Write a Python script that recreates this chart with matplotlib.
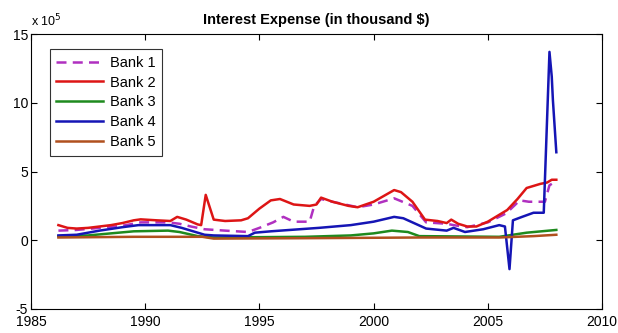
import matplotlib
matplotlib.use("Agg")
import matplotlib.pyplot as plt
from matplotlib.ticker import FuncFormatter

plt.rcParams['font.family'] = ['Liberation Sans', 'DejaVu Sans']

SCALE = 1e5  # values below are in units of 10^5 thousand $

bank1_x = [1986.2, 1987.0, 1988.0, 1989.0, 1989.8, 1991.0, 1991.5, 1992.0, 1992.6, 1993.5,
           1994.5, 1995.0, 1995.6, 1996.05, 1996.5, 1997.2, 1997.4, 1997.7, 1998.2, 1999.3,
           2000.0, 2000.9, 2001.7, 2002.3, 2003.2, 2003.5, 2004.1, 2005.0, 2005.8, 2006.4,
           2006.8, 2007.5, 2007.7, 2008.0]
bank1_y = [0.7, 0.75, 0.9, 1.05, 1.3, 1.3, 1.2, 1.0, 0.8, 0.7,
           0.6, 0.9, 1.3, 1.7, 1.35, 1.35, 2.5, 3.0, 2.8, 2.4,
           2.6, 3.05, 2.5, 1.3, 1.2, 1.1, 0.95, 1.3, 1.95, 2.9,
           2.8, 2.8, 4.0, 4.3]

bank2_x = [1986.2, 1986.6, 1987.0, 1987.5, 1988.0, 1988.5, 1989.0, 1989.5, 1989.8, 1990.5,
           1991.1, 1991.4, 1991.8, 1992.3, 1992.45, 1992.65, 1993.0, 1993.5, 1994.2, 1994.5,
           1995.0, 1995.5, 1995.9, 1996.5, 1997.2, 1997.5, 1997.7, 1998.2, 1998.9, 1999.3,
           2000.0, 2000.9, 2001.2, 2001.7, 2002.25, 2002.8, 2003.2, 2003.4, 2003.7, 2004.1,
           2004.5, 2005.0, 2005.85, 2006.3, 2006.7, 2007.3, 2007.6, 2007.8, 2008.0]
bank2_y = [1.1, 0.9, 0.85, 0.9, 1.0, 1.1, 1.25, 1.45, 1.52, 1.45,
           1.4, 1.7, 1.5, 1.15, 1.1, 3.3, 1.5, 1.4, 1.45, 1.6,
           2.3, 2.9, 3.0, 2.6, 2.5, 2.6, 3.1, 2.8, 2.5, 2.4,
           2.8, 3.65, 3.5, 2.8, 1.5, 1.4, 1.25, 1.5, 1.2, 1.0,
           1.0, 1.35, 2.2, 3.0, 3.8, 4.1, 4.2, 4.4, 4.4]

bank3_x = [1986.2, 1987.5, 1988.5, 1989.5, 1991.0, 1991.5, 1992.3, 1993.0, 1997.0, 1999.0,
           2000.0, 2000.8, 2001.5, 2002.0, 2005.5, 2006.7, 2008.0]
bank3_y = [0.3, 0.35, 0.5, 0.65, 0.7, 0.6, 0.3, 0.2, 0.25, 0.35,
           0.5, 0.7, 0.6, 0.3, 0.25, 0.55, 0.75]

bank4_x = [1986.2, 1987.0, 1988.0, 1989.0, 1989.7, 1991.1, 1991.6, 1992.6, 1993.0, 1994.5,
           1994.8, 1995.5, 1997.6, 1999.0, 2000.0, 2000.9, 2001.3, 2002.3, 2003.2, 2003.5,
           2004.0, 2004.8, 2005.5, 2005.75, 2005.95, 2006.1, 2006.5, 2007.0, 2007.45, 2007.7,
           2007.8, 2007.85, 2008.0]
bank4_y = [0.35, 0.4, 0.7, 0.95, 1.1, 1.1, 0.9, 0.4, 0.35, 0.3,
           0.55, 0.65, 0.9, 1.1, 1.35, 1.7, 1.6, 0.85, 0.7, 0.9,
           0.6, 0.8, 1.1, 1.0, -2.1, 1.45, 1.7, 2.0, 2.0, 13.7,
           11.9, 10.2, 6.4]

bank5_x = [1986.2, 1989.5, 1992.5, 1993.0, 1997.0, 2002.0, 2005.5, 2007.0, 2008.0]
bank5_y = [0.2, 0.25, 0.25, 0.12, 0.15, 0.2, 0.2, 0.3, 0.4]

labels = ['Bank 1', 'Bank 2', 'Bank 3', 'Bank 4', 'Bank 5']
x_ticks = [1985, 1990, 1995, 2000, 2005, 2010]
y_ticks = [-5, 0, 5, 10, 15]

series = [(bank1_x, bank1_y), (bank2_x, bank2_y), (bank3_x, bank3_y),
          (bank4_x, bank4_y), (bank5_x, bank5_y)]
colors = ['#B030C0', '#DD1515', '#1E8A1E', '#1515B5', '#B0501E']
styles = ['--', '-', '-', '-', '-']

fig = plt.figure(figsize=(6.18, 3.33), dpi=100)
ax = fig.add_axes([31 / 618, 24 / 333, 571 / 618, 275 / 333])

for (xs, ys), c, ls, lab in zip(series, colors, styles, labels):
    ax.plot(xs, [v * SCALE for v in ys], color=c, ls=ls, lw=1.8, label=lab,
            dashes=(4, 2.5) if ls == '--' else (None, None))

ax.set_xlim(1985, 2010)
ax.set_ylim(-5 * SCALE, 15 * SCALE)
ax.set_xticks(x_ticks)
ax.set_yticks([t * SCALE for t in y_ticks])
ax.yaxis.set_major_formatter(FuncFormatter(lambda v, p: f"{v / SCALE:g}"))
ax.tick_params(direction='in', length=4, width=0.8, top=True, right=True,
               labelsize=10)
ax.tick_params(axis='x', pad=4.5)
ax.tick_params(axis='y', pad=2)
for s in ax.spines.values():
    s.set_linewidth(0.8)

ax.set_title('Interest Expense (in thousand $)', fontsize=10.5, fontweight='bold', pad=7)
fig.text(31 / 618, 1 - 21 / 333, r'x 10$^{5}$', fontsize=9, va='center', ha='left')

leg = ax.legend(loc='upper left', bbox_to_anchor=(0.033, 0.945), borderaxespad=0,
                fontsize=10.5, frameon=True, fancybox=False, shadow=False,
                handlelength=3.2, handletextpad=0.45, labelspacing=0.4,
                borderpad=0.45)
leg.get_frame().set_edgecolor('black')
leg.get_frame().set_linewidth(0.8)

fig.savefig('out.png', dpi=100)
